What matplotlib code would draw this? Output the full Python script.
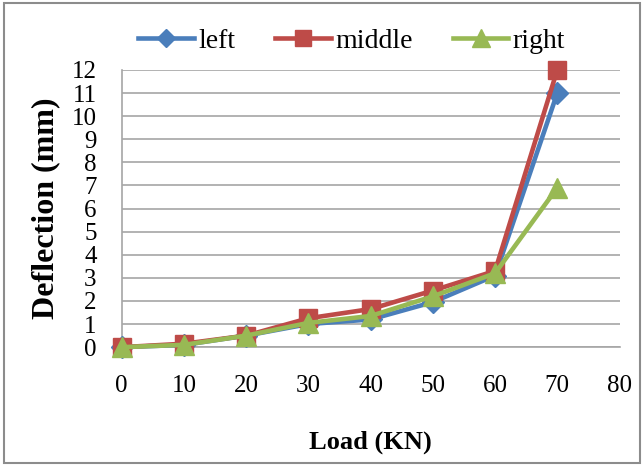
import numpy as np
import matplotlib.pyplot as plt
from matplotlib.patches import Rectangle

# data
load = [0, 10, 20, 30, 40, 50, 60, 70]
left = [0.0, 0.1, 0.5, 1.0, 1.2, 1.95, 3.1, 11.0]
middle = [0.0, 0.15, 0.5, 1.25, 1.65, 2.45, 3.3, 12.0]
right = [0.0, 0.1, 0.5, 1.05, 1.35, 2.2, 3.2, 6.9]

x_ticks = [0, 10, 20, 30, 40, 50, 60, 70, 80]
y_ticks = list(range(0, 13))

plt.rcParams['font.family'] = ['Liberation Serif', 'DejaVu Serif']

fig = plt.figure(figsize=(6.44, 4.66), dpi=100)
ax = fig.add_axes([0.189, 0.255, 0.773, 0.595])

ax.plot(load, left, color='#4A7EBB', lw=3.3, marker='D', ms=11, label='left',
        zorder=3, clip_on=False)
ax.plot(load, middle, color='#BE4B48', lw=3.3, marker='s', ms=13, label='middle',
        zorder=4, clip_on=False)
ax.plot(load, right, color='#98B954', lw=3.3, marker='^', ms=15, label='right',
        zorder=5, clip_on=False)

ax.set_xlim(0, 80)
ax.set_ylim(0, 12)
ax.set_xticks(x_ticks)
ax.set_yticks(y_ticks)
ax.grid(axis='y', color='#a6a6a6', lw=1.2)
ax.set_axisbelow(True)
for s in ['top', 'right']:
    ax.spines[s].set_visible(False)
ax.spines['left'].set_color('#a6a6a6')
ax.spines['bottom'].set_color('#a6a6a6')
ax.spines['left'].set_linewidth(1.2)
ax.spines['bottom'].set_linewidth(1.2)
ax.tick_params(length=0, labelsize=18)
ax.tick_params(axis='x', pad=20)
ax.tick_params(axis='y', pad=18)

ax.set_xlabel('Load (KN)', fontsize=19, fontweight='bold', labelpad=24)
ax.set_ylabel('Deflection (mm)', fontsize=23, fontweight='bold', labelpad=8)

fig.legend(loc='center', bbox_to_anchor=(0.546, 0.912), ncol=3, frameon=False,
           fontsize=20, handlelength=2.0, handletextpad=0.15, columnspacing=1.45,
           markerscale=0.85)

fig.patches.append(Rectangle((0.006, 0.006), 0.988, 0.988, transform=fig.transFigure,
                             fill=False, edgecolor='#8c8c8c', lw=1.5))

fig.savefig('out.png', dpi=100)
